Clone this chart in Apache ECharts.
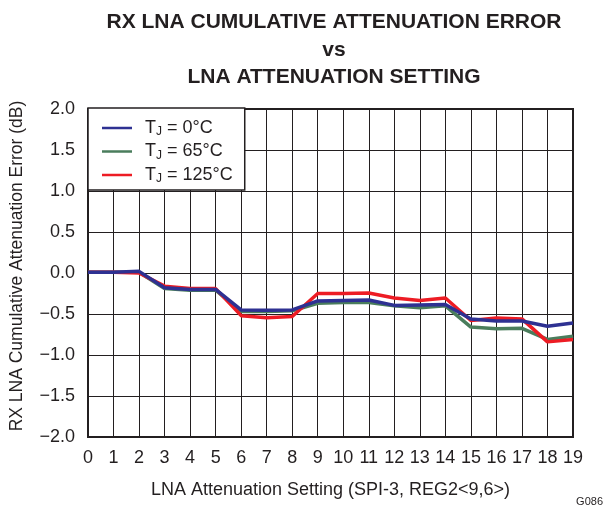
<!DOCTYPE html>
<html>
<head>
<meta charset="utf-8">
<script src="https://cdn.jsdelivr.net/npm/echarts@6/dist/echarts.min.js"></script>
<style>
  html, body { margin: 0; padding: 0; background: #fff; }
  #chart { width: 608px; height: 506px; }
</style>
</head>
<body>
<div id="chart"></div>
<script>
// LNA attenuation setting (x axis)
const settings = [0, 1, 2, 3, 4, 5, 6, 7, 8, 9, 10, 11, 12, 13, 14, 15, 16, 17, 18, 19]

// cumulative attenuation error (dB)
const tj0 = [0.01, 0.01, 0.02, -0.18, -0.20, -0.20, -0.45, -0.455, -0.45, -0.34,
  -0.335, -0.33, -0.395, -0.39, -0.385, -0.56, -0.585, -0.585, -0.65, -0.61]
const tj65 = [0.01, 0.01, 0.01, -0.19, -0.21, -0.21, -0.47, -0.47, -0.46, -0.37,
  -0.36, -0.36, -0.40, -0.425, -0.40, -0.66, -0.68, -0.675, -0.81, -0.77]
const tj125 = [0.01, 0.01, 0.0, -0.16, -0.19, -0.19, -0.52, -0.545, -0.53, -0.25,
  -0.25, -0.245, -0.305, -0.335, -0.305, -0.58, -0.55, -0.56, -0.84, -0.81]

const legendNames = ['T{sub|J} = 0°C', 'T{sub|J} = 65°C', 'T{sub|J} = 125°C']
const titleLines = ['RX LNA CUMULATIVE ATTENUATION ERROR', 'vs', 'LNA ATTENUATION SETTING']

const font = 'Liberation Sans, Arial, sans-serif'
const ink = '#231f20'

function pairs (ys) {
  return settings.map((x, i) => [x, ys[i]])
}

const myChart = echarts.init(document.getElementById('chart'))

myChart.setOption({
  animation: false,
  textStyle: { fontFamily: font, color: ink },
  graphic: [
    ...titleLines.map((t, i) => ({
      type: 'text',
      x: 334,
      y: [22, 50, 77][i],
      style: {
        text: t,
        textAlign: 'center',
        textVerticalAlign: 'middle',
        font: 'bold 21px ' + font,
        fill: ink
      }
    })),
    {
      type: 'text',
      x: 603,
      y: 502,
      style: {
        text: 'G086',
        textAlign: 'right',
        textVerticalAlign: 'middle',
        font: '11px ' + font,
        fill: ink
      }
    }
  ],
  grid: {
    left: 88,
    right: 35,
    top: 109,
    bottom: 69,
    outerBoundsMode: 'none',
    show: true,
    borderColor: ink,
    borderWidth: 2,
    backgroundColor: '#fff'
  },
  legend: {
    data: legendNames,
    orient: 'vertical',
    left: 88,
    top: 108,
    backgroundColor: '#fff',
    borderColor: ink,
    borderWidth: 1.5,
    borderRadius: 0,
    padding: [10, 12, 5, 14],
    itemWidth: 30,
    itemHeight: 14,
    itemGap: 3.5,
    icon: 'path://M0,6 L30,6 L30,8.5 L0,8.5 Z',
    textStyle: {
      fontFamily: font,
      fontSize: 18,
      lineHeight: 20,
      color: ink,
      padding: [0, 0, 0, 8],
      rich: {
        sub: { fontSize: 12, lineHeight: 12, verticalAlign: 'bottom', fontFamily: font, color: ink }
      }
    }
  },
  xAxis: {
    type: 'value',
    min: 0,
    max: 19,
    interval: 1,
    name: 'LNA Attenuation Setting (SPI-3, REG2<9,6>)',
    nameLocation: 'middle',
    nameGap: 44,
    nameTextStyle: { fontSize: 18, color: ink, fontFamily: font },
    axisLine: { show: false },
    axisTick: { show: false },
    axisLabel: { fontSize: 18, color: ink, margin: 12, fontFamily: font },
    splitLine: { show: true, lineStyle: { color: ink, width: 1 } }
  },
  yAxis: {
    type: 'value',
    min: -2,
    max: 2,
    interval: 0.5,
    name: 'RX LNA Cumulative Attenuation Error (dB)',
    nameLocation: 'middle',
    nameGap: 62,
    nameTextStyle: { fontSize: 17.5, color: ink, fontFamily: font, padding: [0, 0, 0, 14] },
    axisLine: { show: false },
    axisTick: { show: false },
    axisLabel: {
      fontSize: 18,
      color: ink,
      margin: 13,
      fontFamily: font,
      formatter: v => v.toFixed(1).replace('-', '\u2212')
    },
    splitLine: { show: true, lineStyle: { color: ink, width: 1 } }
  },
  series: [
    {
      name: legendNames[1],
      type: 'line',
      data: pairs(tj65),
      showSymbol: false,
      color: '#4a7d5c',
      lineStyle: { width: 3.5 },
      z: 2
    },
    {
      name: legendNames[2],
      type: 'line',
      data: pairs(tj125),
      showSymbol: false,
      color: '#ed1c24',
      lineStyle: { width: 3.5 },
      z: 3
    },
    {
      name: legendNames[0],
      type: 'line',
      data: pairs(tj0),
      showSymbol: false,
      color: '#2e3192',
      lineStyle: { width: 3.5 },
      z: 4
    }
  ]
})
</script>
</body>
</html>
